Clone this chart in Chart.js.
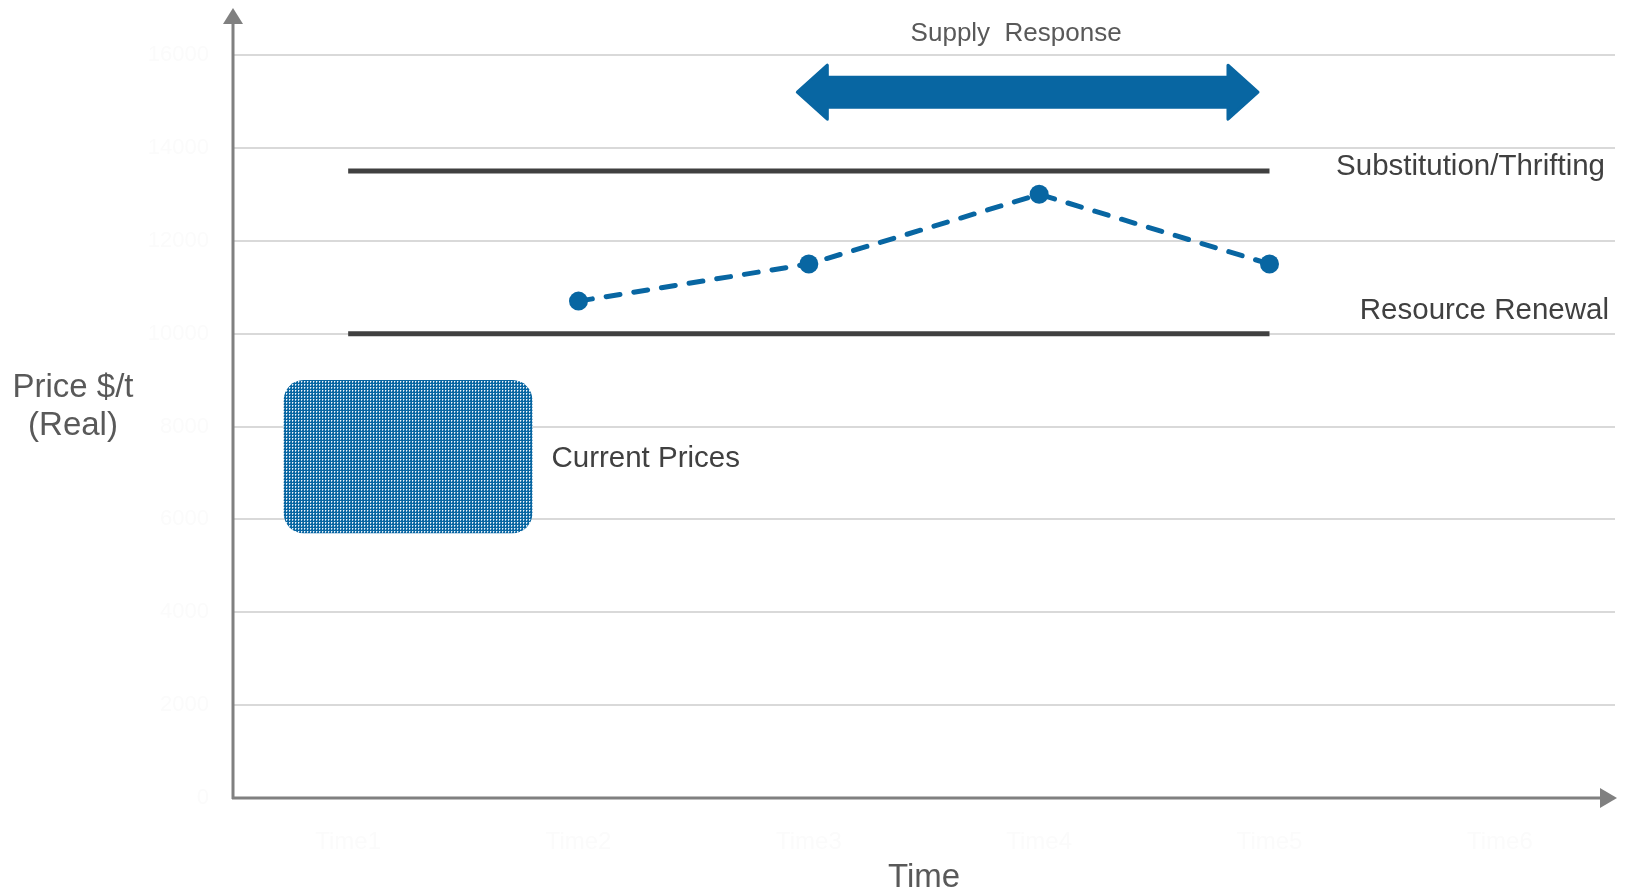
<!DOCTYPE html>
<html>
<head>
<meta charset="utf-8">
<script src="https://cdn.jsdelivr.net/npm/chart.js@4.4.1/dist/chart.umd.min.js"></script>
<style>
  body { margin: 0; background: #fff; }
  #wrap { width: 1627px; height: 894px; }
</style>
</head>
<body>
<div id="wrap"><canvas id="graph" width="1627" height="894"></canvas></div>
<script>
// values
var timeLabels = ['Time1', 'Time2', 'Time3', 'Time4', 'Time5', 'Time6'];
var yMin = 0, yMax = 16000, yStep = 2000;

var priceTimes = ['Time2', 'Time3', 'Time4', 'Time5'];
var priceValues = [10700, 11500, 13000, 11500];

var substitutionTimes = ['Time1', 'Time5'];
var substitutionValues = [13500, 13500];

var renewalTimes = ['Time1', 'Time5'];
var renewalValues = [10000, 10000];

// current price band (x in category units) and supply response span
var currentX = [-0.28, 0.8];
var currentY = [5700, 9000];
var supplyX = [1.95, 3.95];
var supplyY = 15200;

var blue = '#0866a2';
var dark = '#404040';
var grey = '#595959';
var font = '"Liberation Sans", Arial, sans-serif';

function pts(xs, ys) {
    return xs.map(function(x, i) { return { x: x, y: ys[i] }; });
}

// dotted fill for the current price box
function makePattern(ctx) {
    var c = document.createElement('canvas');
    c.width = 3; c.height = 3;
    var p = c.getContext('2d');
    p.fillStyle = blue;
    p.fillRect(0, 0, 3, 3);
    p.fillStyle = '#f2f7fb';
    p.fillRect(1, 0, 1, 1);
    p.fillStyle = '#a6c7df';
    p.fillRect(1, 1, 1, 1);
    p.fillStyle = '#5b98c2';
    p.fillRect(2, 0, 1, 1);
    return ctx.createPattern(c, 'repeat');
}

var extras = {
    id: 'extras',
    beforeDatasetsDraw: function(chart) {
        var ctx = chart.ctx, x = chart.scales.x, y = chart.scales.y;
        ctx.save();

        // current prices box
        var bx0 = x.getPixelForValue(currentX[0]), bx1 = x.getPixelForValue(currentX[1]);
        var by0 = y.getPixelForValue(currentY[1]), by1 = y.getPixelForValue(currentY[0]);
        ctx.fillStyle = makePattern(ctx);
        ctx.beginPath();
        ctx.roundRect(bx0, by0, bx1 - bx0, by1 - by0, 20);
        ctx.fill();

        // supply response double arrow
        var ax0 = x.getPixelForValue(supplyX[0]), ax1 = x.getPixelForValue(supplyX[1]);
        var ay = y.getPixelForValue(supplyY);
        var sh = 15, hh = 27, hl = 30;
        ctx.fillStyle = blue;
        ctx.strokeStyle = blue;
        ctx.lineWidth = 3;
        ctx.lineJoin = 'round';
        ctx.beginPath();
        ctx.moveTo(ax0, ay);
        ctx.lineTo(ax0 + hl, ay - hh);
        ctx.lineTo(ax0 + hl, ay - sh);
        ctx.lineTo(ax1 - hl, ay - sh);
        ctx.lineTo(ax1 - hl, ay - hh);
        ctx.lineTo(ax1, ay);
        ctx.lineTo(ax1 - hl, ay + hh);
        ctx.lineTo(ax1 - hl, ay + sh);
        ctx.lineTo(ax0 + hl, ay + sh);
        ctx.lineTo(ax0 + hl, ay + hh);
        ctx.closePath();
        ctx.fill();
        ctx.stroke();

        // labels
        ctx.textBaseline = 'middle';
        ctx.fillStyle = grey;
        ctx.font = '26px ' + font;
        ctx.textAlign = 'center';
        ctx.fillText('Supply  Response', x.getPixelForValue(2.9), ay - 58);

        ctx.fillStyle = dark;
        ctx.font = '29.5px ' + font;
        ctx.textAlign = 'right';
        ctx.fillText('Substitution/Thrifting', chart.chartArea.right - 10, y.getPixelForValue(substitutionValues[0]) - 4);
        ctx.fillText('Resource Renewal', chart.chartArea.right - 6, y.getPixelForValue(renewalValues[0]) - 23);
        ctx.textAlign = 'left';
        ctx.fillText('Current Prices', bx1 + 19, y.getPixelForValue(7300));

        ctx.fillStyle = grey;
        ctx.font = '33px ' + font;
        ctx.textAlign = 'center';
        ctx.fillText('Price $/t', 73, chart.height * 0.434);
        ctx.fillText('(Real)', 73, chart.height * 0.476);
        ctx.restore();
    },
    afterDraw: function(chart) {
        var ctx = chart.ctx, a = chart.chartArea;
        ctx.save();
        ctx.strokeStyle = '#808080';
        ctx.fillStyle = '#808080';
        ctx.lineWidth = 3;
        ctx.beginPath();
        ctx.moveTo(a.left, a.bottom + 1);
        ctx.lineTo(a.left, a.top - 35);
        ctx.moveTo(a.left - 1, a.bottom);
        ctx.lineTo(a.right - 10, a.bottom);
        ctx.stroke();
        ctx.beginPath();
        ctx.moveTo(a.left, a.top - 47);
        ctx.lineTo(a.left - 10, a.top - 31);
        ctx.lineTo(a.left + 10, a.top - 31);
        ctx.closePath();
        ctx.fill();
        ctx.beginPath();
        ctx.moveTo(a.right + 2, a.bottom);
        ctx.lineTo(a.right - 15, a.bottom - 10);
        ctx.lineTo(a.right - 15, a.bottom + 10);
        ctx.closePath();
        ctx.fill();
        ctx.restore();
    }
};

var ctx = document.getElementById('graph').getContext('2d');
var chart = new Chart(ctx, {
    type: 'line',
    data: {
        labels: timeLabels,
        datasets: [{
            label: 'Substitution/Thrifting',
            data: pts(substitutionTimes, substitutionValues),
            borderColor: dark,
            borderWidth: 5,
            pointRadius: 0
        }, {
            label: 'Resource Renewal',
            data: pts(renewalTimes, renewalValues),
            borderColor: dark,
            borderWidth: 5,
            pointRadius: 0
        }, {
            label: 'Price',
            data: pts(priceTimes, priceValues),
            borderColor: blue,
            backgroundColor: blue,
            borderWidth: 5,
            borderDash: [14, 14],
            borderCapStyle: 'round',
            pointRadius: 9.5,
            pointBorderWidth: 0,
            tension: 0
        }]
    },
    options: {
        responsive: false,
        animation: false,
        layout: { padding: { top: 55, right: 12, left: 0, bottom: 0 } },
        plugins: { legend: { display: false }, tooltip: { enabled: false } },
        scales: {
            x: {
                type: 'category',
                offset: true,
                grid: { display: false },
                border: { display: false },
                ticks: { color: '#fbfbfb', font: { family: font, size: 24 }, padding: 22 },
                title: { display: true, text: 'Time', color: grey, font: { family: font, size: 33, lineHeight: 1 }, padding: 0 },
                afterFit: function(s) { s.height = 96; }
            },
            y: {
                min: yMin,
                max: yMax,
                grid: { color: '#d9d9d9', lineWidth: 2, drawTicks: false },
                border: { display: false },
                ticks: {
                    stepSize: yStep,
                    color: '#fbfbfb',
                    font: { family: font, size: 22 },
                    padding: 24,
                    callback: function(v) { return String(v); }
                },
                afterFit: function(s) { s.width = 233; }
            }
        }
    },
    plugins: [extras]
});
</script>
</body>
</html>
